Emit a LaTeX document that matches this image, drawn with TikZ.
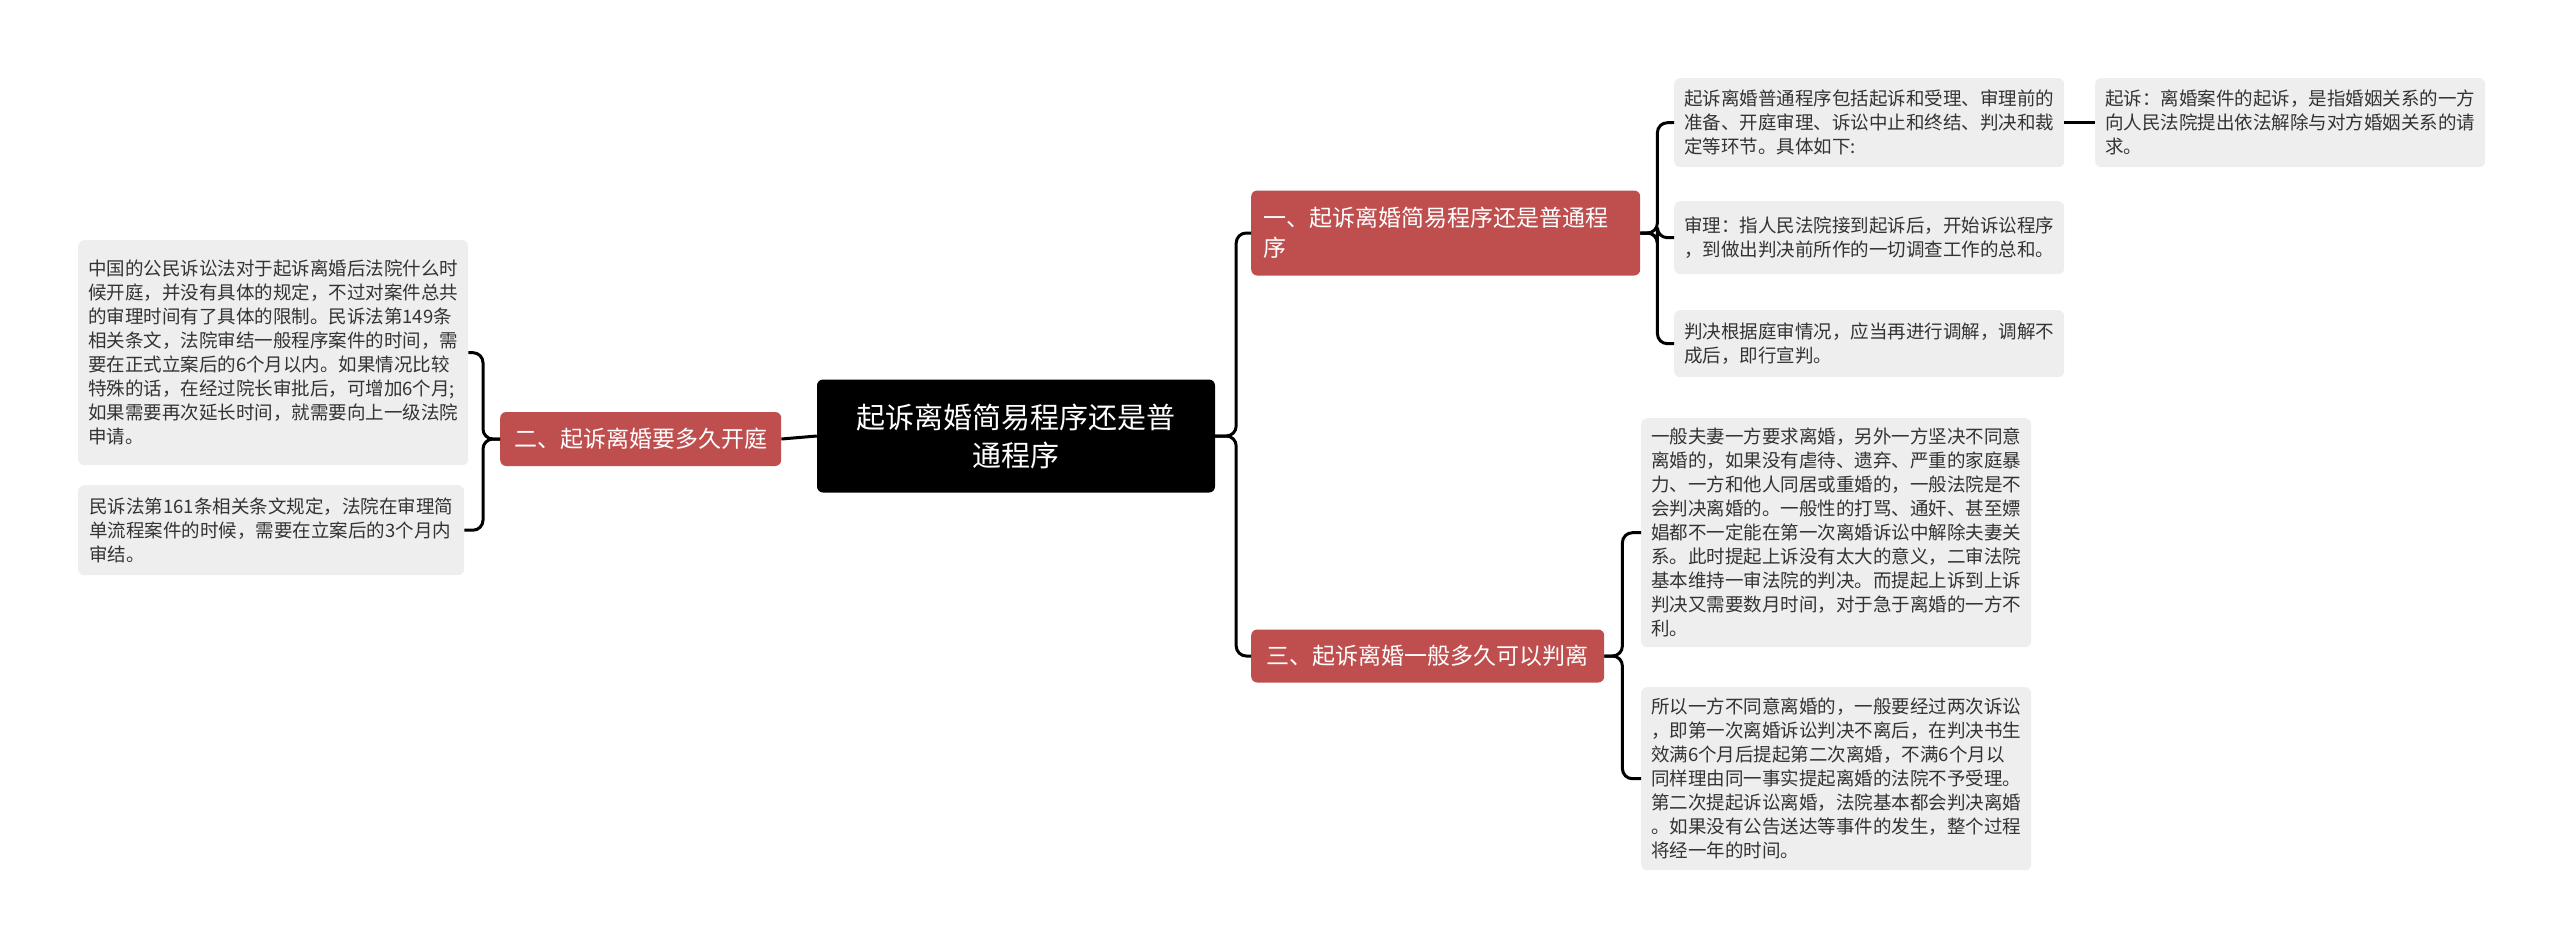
\documentclass[tikz,border=0pt]{standalone}
\usepackage{fontspec}
\setmainfont{Noto Sans CJK SC}
\definecolor{redb}{HTML}{BF4F4F}
\definecolor{leafbg}{HTML}{EEEEEE}
\definecolor{txt}{HTML}{333333}
\begin{document}
\begin{tikzpicture}[x=1pt,y=-1pt,
 leaf/.style={fill=leafbg,rounded corners=6pt,anchor=north west,align=left,text=txt,font=\fontsize{18.5}{24}\selectfont,inner xsep=10pt,inner ysep=6pt},
 head/.style={fill=redb,rounded corners=6pt,anchor=west,align=left,text=white,font=\fontsize{23}{30}\selectfont,inner xsep=12pt,inner ysep=8pt},
 conn/.style={line width=3pt,rounded corners=10pt,draw=black}]
\useasboundingbox (0,0) rectangle (2560,951);
\node[fill=black,rounded corners=6pt,text=white,align=center,font=\fontsize{29}{38}\selectfont,minimum width=398pt,minimum height=113pt] (root) at (1016,436) {起诉离婚简易程序还是普\\通程序};
\node[head,minimum width=281pt,minimum height=54pt] (n2) at (500,439) {二、起诉离婚要多久开庭};
\node[head,minimum width=389pt,minimum height=85pt,text width=365pt] (n1) at (1251,233) {一、起诉离婚简易程序还是普通程\\序};
\node[head,minimum width=353pt,minimum height=53pt] (n3) at (1251,656) {三、起诉离婚一般多久可以判离};
\node[leaf,minimum width=386pt,minimum height=225pt] (l1) at (78,240) {中国的公民诉讼法对于起诉离婚后法院什么时\\候开庭，并没有具体的规定，不过对案件总共\\的审理时间有了具体的限制。民诉法第149条\\相关条文，法院审结一般程序案件的时间，需\\要在正式立案后的6个月以内。如果情况比较\\特殊的话，在经过院长审批后，可增加6个月;\\如果需要再次延长时间，就需要向上一级法院\\申请。};
\node[leaf,minimum width=386pt,minimum height=90pt] (l2) at (78,485) {民诉法第161条相关条文规定，法院在审理简\\单流程案件的时候，需要在立案后的3个月内\\审结。};
\node[leaf,minimum width=387pt,minimum height=89pt] (ra) at (1674,78) {起诉离婚普通程序包括起诉和受理、审理前的\\准备、开庭审理、诉讼中止和终结、判决和裁\\定等环节。具体如下:};
\node[leaf,minimum width=384pt,minimum height=89pt] (ra2) at (2095,78) {起诉：离婚案件的起诉，是指婚姻关系的一方\\向人民法院提出依法解除与对方婚姻关系的请\\求。};
\node[leaf,minimum width=387pt,minimum height=73pt] (rb) at (1674,201) {审理：指人民法院接到起诉后，开始诉讼程序\\，到做出判决前所作的一切调查工作的总和。};
\node[leaf,minimum width=387pt,minimum height=67pt] (rc) at (1674,310) {判决根据庭审情况，应当再进行调解，调解不\\成后，即行宣判。};
\node[leaf,minimum width=387pt,minimum height=229pt] (rd) at (1641,418) {一般夫妻一方要求离婚，另外一方坚决不同意\\离婚的，如果没有虐待、遗弃、严重的家庭暴\\力、一方和他人同居或重婚的，一般法院是不\\会判决离婚的。一般性的打骂、通奸、甚至嫖\\娼都不一定能在第一次离婚诉讼中解除夫妻关\\系。此时提起上诉没有太大的意义，二审法院\\基本维持一审法院的判决。而提起上诉到上诉\\判决又需要数月时间，对于急于离婚的一方不\\利。};
\node[leaf,minimum width=387pt,minimum height=183pt] (re) at (1641,687) {所以一方不同意离婚的，一般要经过两次诉讼\\，即第一次离婚诉讼判决不离后，在判决书生\\效满6个月后提起第二次离婚，不满6个月以\\同样理由同一事实提起离婚的法院不予受理。\\第二次提起诉讼离婚，法院基本都会判决离婚\\。如果没有公告送达等事件的发生，整个过程\\将经一年的时间。};
\draw[conn] (root.east) -- ++(21,0) |- (n1.west);
\draw[conn] (root.east) -- ++(21,0) |- (n3.west);
\draw[conn] (root.west) -- (n2.east);
\draw[conn] (n2.west) -- ++(-17,0) |- (l1.east);
\draw[conn] (n2.west) -- ++(-17,0) |- (l2.east);
\draw[conn] (n1.east) -- ++(17,0) |- (ra.west);
\draw[conn] (n1.east) -- ++(17,0) |- (rb.west);
\draw[conn] (n1.east) -- ++(17,0) |- (rc.west);
\draw[conn] (ra.east) -- (ra2.west);
\draw[conn] (n3.east) -- ++(18,0) |- (rd.west);
\draw[conn] (n3.east) -- ++(18,0) |- (re.west);
\end{tikzpicture}
\end{document}
